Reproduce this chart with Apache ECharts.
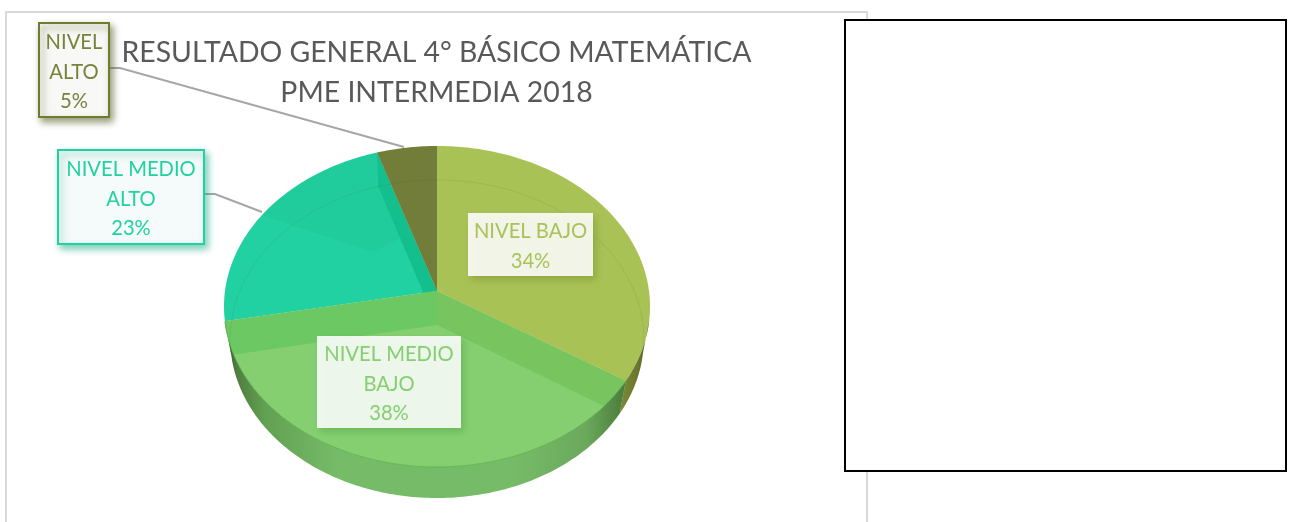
<!DOCTYPE html>
<html><head><meta charset="utf-8">
<style>html,body{margin:0;padding:0;background:#fff}#c{width:1294px;height:522px}</style>
<script src="https://cdn.jsdelivr.net/npm/echarts@6/dist/echarts.min.js"></script>
</head><body><div id="c"></div>
<script>
const categories = ['NIVEL BAJO', 'NIVEL MEDIO BAJO', 'NIVEL MEDIO ALTO', 'NIVEL ALTO'];
const shares = [34, 38, 23, 5];
const labelLines = [['NIVEL BAJO'], ['NIVEL MEDIO', 'BAJO'], ['NIVEL MEDIO', 'ALTO'], ['NIVEL', 'ALTO']];
const titleLines = ['RESULTADO GENERAL 4° BÁSICO MATEMÁTICA', 'PME INTERMEDIA 2018'];

const faceColors = ['#a8c256', '#85cf70', '#22d1a1', '#737d3a'];
const textColors = ['#a9c25a', '#85cf70', '#20d2a0', '#76833a'];
const FONT = 'Lato, Carlito, "Open Sans", sans-serif';

// Perspective projection of the pie's top and bottom discs
const TOP = {cx: 437, cy: 291, a: 159, b: 212, k: 0.0966};
const BOT = {cx: 437, cy: 325, a: 157.8, b: 206, k: 0.088};
function proj(p, deg) {
  const t = deg * Math.PI / 180, u = Math.sin(t), v = Math.cos(t), d = 1 + p.k * v;
  return [p.cx + p.b * u / d, p.cy - p.a * v / d];
}
function arc(p, d0, d1) {
  const pts = [], n = Math.max(2, Math.ceil(Math.abs(d1 - d0)));
  for (let i = 0; i <= n; i++) pts.push(proj(p, d0 + (d1 - d0) * i / n));
  return pts;
}
const total = shares.reduce((a, b) => a + b, 0);
function bounds(i) {
  let s = 0;
  for (let j = 0; j < i; j++) s += shares[j];
  return [s / total * 360, (s + shares[i]) / total * 360];
}
const apexT = [TOP.cx, TOP.cy], apexB = [BOT.cx, BOT.cy];
const wallGrad = (stops) => new echarts.graphic.LinearGradient(0, 0, 1, 0, stops.map((c) => ({offset: c[0], color: c[1]})));

const poly = (points, fill, z2, extra) => ({type: 'polygon', shape: {points}, z2, style: Object.assign({fill}, extra || {}), silent: true});
const line = (points, stroke, z2, w) => ({type: 'polyline', shape: {points}, z2, style: {stroke, fill: null, lineWidth: w || 1}, silent: true});
const innerWall = (deg) => [apexT, proj(TOP, deg), proj(BOT, deg), apexB];

function renderSlice(params) {
  const i = params.dataIndex;
  const [d0, d1] = bounds(i);
  const face = [apexT].concat(arc(TOP, d0, d1));
  const zBase = [30, 50, 10, 20][i];
  const children = [poly(face, faceColors[i], zBase)];
  if (i === 1) {
    children.push(poly(innerWall(d0), '#78c45f', zBase + 1));
    children.push(poly(innerWall(d1), '#6cc862', zBase + 1));
    children.push(poly(arc(TOP, d0, d1).concat(arc(BOT, d1, d0)),
      wallGrad([[0, '#35552a'], [0.03, '#4f7f3f'], [0.1, '#62a052'], [0.28, '#76bb68'], [0.72, '#76bb68'], [0.9, '#6ba95c'], [1, '#4b7a3a']]), 70));
    children.push(line(arc(TOP, d0, d1), '#62b653', 71));
  }
  if (i === 0) {
    children.push(poly(arc(TOP, 100, d1).concat(arc(BOT, d1, 100)),
      wallGrad([[0, '#7d8a3a'], [0.5, '#6d7a2e'], [1, '#5a6626']]), 70));
  }
  if (i === 2) {
    children.push(poly([[373, 252], [400, 238]].concat(arc(TOP, d1, 300)), 'rgba(0,60,40,0.03)', zBase + 1));
    children.push(poly(innerWall(d1), '#14bf8e', zBase + 2));
  }
  return {type: 'group', children};
}

function renderBackRim() {
  return {type: 'group', children: [
    line(arc(BOT, 262, 458), 'rgba(70,90,20,0.11)', 60)
  ]};
}

// label boxes: style and placement
const boxes = [
  {x: 468, y: 213, w: 125, h: 63, fill: 'rgba(255,255,255,0.87)', border: null, shadow: 'rgba(130,150,50,0.7)'},
  {x: 317, y: 336, w: 144, h: 92, fill: 'rgba(255,255,255,0.87)', border: null, shadow: 'rgba(90,170,80,0.7)'},
  {x: 58, y: 150, w: 146, h: 94, fill: '#f5fbfa', border: '#22d1a1', shadow: 'rgba(20,170,130,0.55)'},
  {x: 39, y: 23, w: 70, h: 94, fill: '#f8f8f6', border: '#6f7c2e', shadow: 'rgba(80,90,30,0.6)'}
];
const leaders = {2: {from: [204, 194], elbow: [215, 194], end: [262, 212]}, 3: {from: [110, 68], elbow: [120, 68], end: [404, 147]}};

function renderLabel(params) {
  const i = params.dataIndex, b = boxes[i];
  const lines = labelLines[i].concat([Math.round(shares[i] / total * 100) + '%']);
  const children = [];
  if (leaders[i]) {
    const l = leaders[i];
    children.push(line([l.from, l.elbow, l.end], '#a6a6a6', 80, 2));
  }
  children.push({type: 'rect', z2: 90, silent: true, shape: {x: b.x, y: b.y, width: b.w, height: b.h},
    style: {fill: b.fill, stroke: b.border, lineWidth: b.border ? 2 : 0, shadowBlur: 7, shadowOffsetX: 3, shadowOffsetY: 4, shadowColor: b.shadow}});
  children.push({type: 'text', z2: 91, silent: true, style: {
    text: lines.join('\n'), x: b.x + b.w / 2, y: b.y + b.h / 2 + 2, align: 'center', verticalAlign: 'middle',
    fill: textColors[i], font: '20.2px ' + FONT, lineHeight: 29.2}});
  return {type: 'group', children};
}

const chart = echarts.init(document.getElementById('c'), null, {renderer: 'canvas'});
chart.setOption({
  animation: false,
  backgroundColor: '#ffffff',
  tooltip: {show: false},
  title: {
    text: titleLines.join('\n'), left: 431.5, top: 28, textAlign: 'center',
    textStyle: {color: '#595959', fontFamily: FONT, fontSize: 28.4, fontWeight: 'normal', lineHeight: 40}
  },
  graphic: [
    {type: 'polyline', z: -1, silent: true, shape: {points: [[6, 522], [6, 12], [867, 12], [867, 522]]}, style: {stroke: '#d9d9d9', lineWidth: 2, fill: null}},
    {type: 'rect', z: 100, silent: true, shape: {x: 845, y: 20, width: 441, height: 451}, style: {fill: '#ffffff', stroke: '#000000', lineWidth: 2}}
  ],
  series: [
    {type: 'custom', coordinateSystem: 'none', name: 'Resultado', z: 2, silent: true,
     data: categories.map((n, i) => ({name: n, value: shares[i]})), renderItem: renderSlice},
    {type: 'custom', coordinateSystem: 'none', z: 3, silent: true, data: [1], renderItem: renderBackRim},
    {type: 'custom', coordinateSystem: 'none', name: 'Etiquetas', z: 4, silent: true,
     data: categories.map((n, i) => ({name: n, value: shares[i]})), renderItem: renderLabel}
  ]
});
</script></body></html>
